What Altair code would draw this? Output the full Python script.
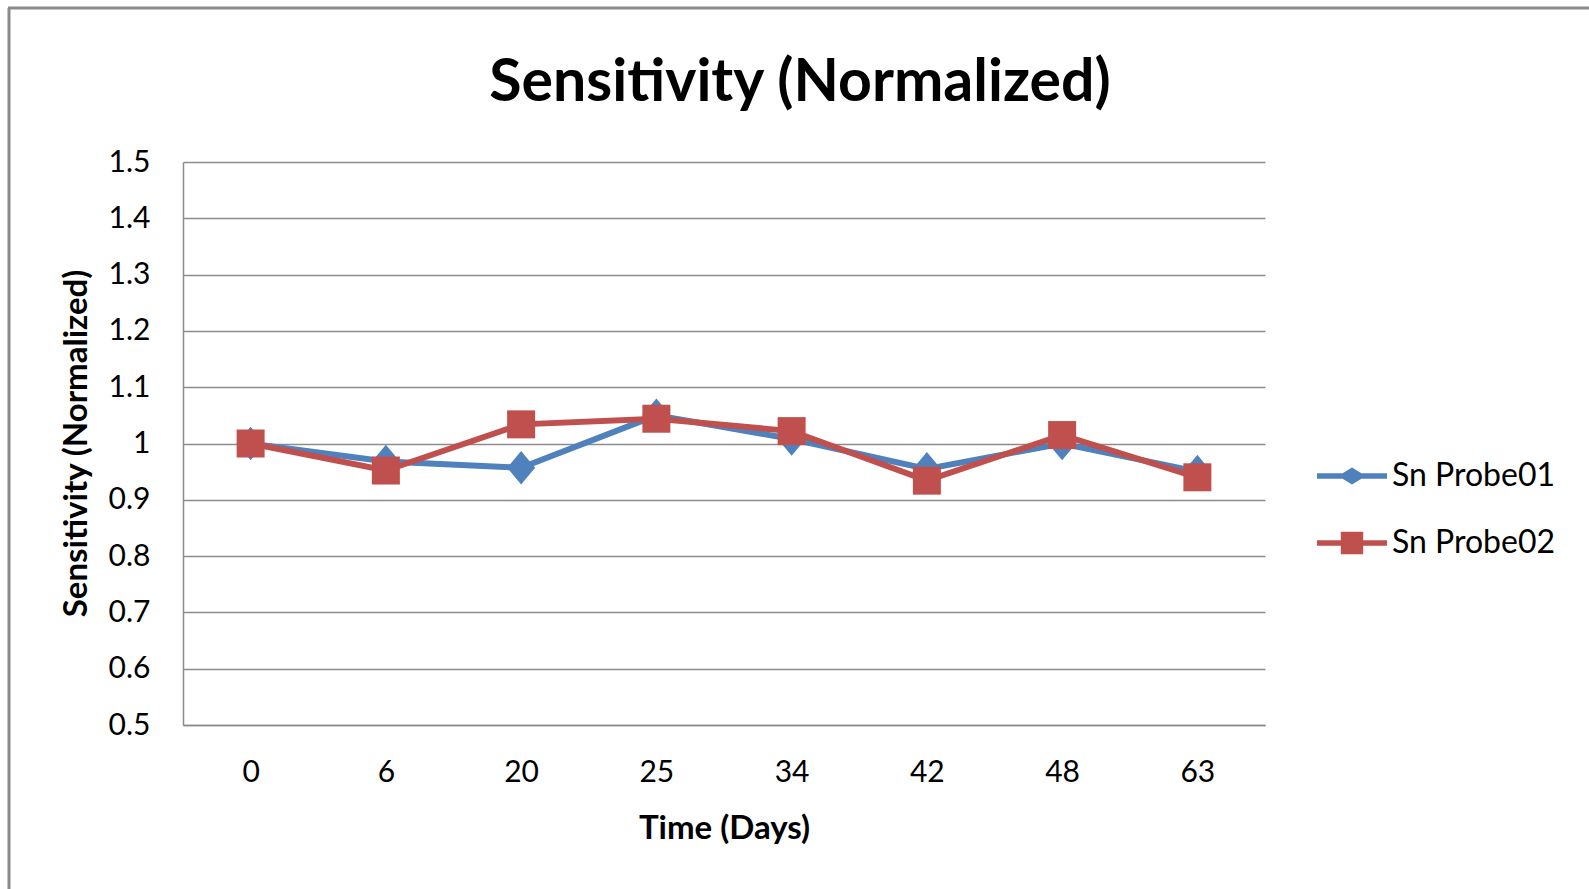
import altair as alt
import pandas as pd

days = ["0", "6", "20", "25", "34", "42", "48", "63"]
probe01 = [1.0, 0.968, 0.957, 1.05, 1.008, 0.955, 1.0, 0.950]
probe02 = [1.0, 0.952, 1.034, 1.044, 1.022, 0.934, 1.015, 0.940]
series_names = ["Sn Probe01", "Sn Probe02"]
series_colors = ["#4F81BD", "#C0504D"]
y_ticks = [0.5, 0.6, 0.7, 0.8, 0.9, 1.0, 1.1, 1.2, 1.3, 1.4, 1.5]

rows = []
for name, vals in zip(series_names, [probe01, probe02]):
    for d, v in zip(days, vals):
        rows.append({"day": d, "value": v, "series": name})
df = pd.DataFrame(rows)

FONT = "Lato"
GRID = "#8c8c8c"

# marker paths
plot_diamond = "M0,-1.2L1,0L0,1.2L-1,0Z"
t = 0.08
leg_diamond = (f"M-1,{-t}L-0.27,{-t}L0,-0.24L0.27,{-t}L1,{-t}"
               f"L1,{t}L0.27,{t}L0,0.24L-0.27,{t}L-1,{t}Z")
s = 0.32
leg_square = (f"M-1,{-t}L{-s},{-t}L{-s},{-s}L{s},{-s}L{s},{-t}L1,{-t}"
              f"L1,{t}L{s},{t}L{s},{s}L{-s},{s}L{-s},{t}L-1,{t}Z")

color_scale = alt.Scale(domain=series_names, range=series_colors)

x_enc = alt.X("day:N", sort=days, title="Time (Days)",
              axis=alt.Axis(labelAngle=0, ticks=False, grid=False,
                            domainColor=GRID, domainWidth=1.5,
                            labelFont=FONT, labelFontSize=30, labelColor="black",
                            labelBaseline="middle", labelPadding=47,
                            titleFont=FONT, titleFontSize=33, titleFontWeight="bold",
                            titleColor="black", titleY=103, titleBaseline="middle"))
y_enc = alt.Y("value:Q", title="Sensitivity (Normalized)",
              scale=alt.Scale(domain=[0.5, 1.5], nice=False, zero=False),
              axis=alt.Axis(values=y_ticks, format="~g", ticks=False, grid=True,
                            gridColor=GRID, gridWidth=1.5,
                            domainColor=GRID, domainWidth=1.5,
                            labelFont=FONT, labelFontSize=30, labelColor="black",
                            labelPadding=33, labelBaseline="middle",
                            titleFont=FONT, titleFontSize=33, titleFontWeight="bold",
                            titleColor="black", titleX=-107, titleY=281,
                            titleBaseline="middle"))

layers = []
for name, col, shape in [(series_names[0], series_colors[0], plot_diamond),
                         (series_names[1], series_colors[1], "square")]:
    base = alt.Chart(df).transform_filter(alt.datum.series == name)
    layers.append(base.mark_line(strokeWidth=6, color=col).encode(x=x_enc, y=y_enc))
    layers.append(base.mark_point(filled=True, opacity=1, shape=shape, size=784, color=col)
                  .encode(x=x_enc, y=y_enc))

leg = alt.Legend(title=None, orient="none", legendX=1134, legendY=279,
                 symbolSize=4900, symbolStrokeWidth=0, labelFont=FONT, labelFontSize=32,
                 labelColor="black", labelOffset=5, rowPadding=16, padding=0, labelLimit=400)
legend_layer = alt.Chart(df).transform_filter("false").mark_point(filled=True, opacity=1).encode(
    color=alt.Color("series:N", scale=color_scale, legend=leg),
    shape=alt.Shape("series:N", scale=alt.Scale(domain=series_names, range=[leg_diamond, leg_square]),
                    legend=leg),
)

frame_df = pd.DataFrame({"k": [0]})
frame_left = alt.Chart(frame_df).mark_rule(color="#8a8a8a", strokeWidth=3).encode(
    x=alt.value(-174), y=alt.value(-154), y2=alt.value(727))
frame_top = alt.Chart(frame_df).mark_rule(color="#8a8a8a", strokeWidth=3).encode(
    x=alt.value(-175), x2=alt.value(1406), y=alt.value(-154))

chart = alt.layer(frame_left, frame_top, *layers, legend_layer).properties(
    width=1082, height=563,
    padding={"left": 183, "top": 162, "right": 324, "bottom": 164},
    autosize=alt.AutoSizeParams(type="none"),
    background="white",
    title=alt.TitleParams("Sensitivity (Normalized)", font=FONT, fontSize=59,
                          fontWeight="bold", color="black", anchor="middle",
                          frame="group", dx=76, offset=0, dy=153, baseline="alphabetic"),
).configure_view(strokeWidth=0)

chart.save("out.html", embed_options={"renderer": "svg", "actions": False})
